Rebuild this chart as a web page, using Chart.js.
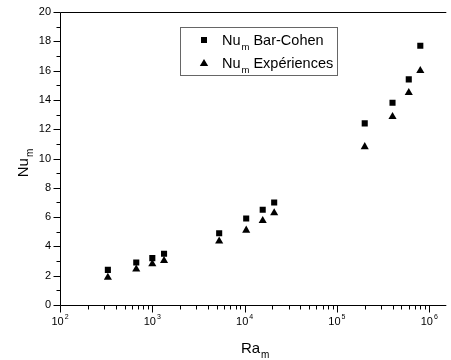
<!DOCTYPE html>
<html>
<head>
<meta charset="utf-8">
<script src="https://cdn.jsdelivr.net/npm/chart.js@4.4.1/dist/chart.umd.min.js"></script>
<style>
	html, body { margin: 0; padding: 0; background: #fff; }
	#wrap { width: 451px; height: 360px; position: relative; }
</style>
</head>
<body>
<div id="wrap"><canvas id="nuChart"></canvas></div>
<script>
// Rayleigh numbers (x) and mean Nusselt numbers for both series
const raValues = [330, 670, 1000, 1340, 5300, 10400, 15700, 20900, 200000, 400000, 600000, 800000];
const nuBarCohen = [2.4, 2.9, 3.2, 3.5, 4.9, 5.9, 6.5, 7.0, 12.4, 13.8, 15.4, 17.7];
const nuExperiences = [1.88, 2.45, 2.8, 3.02, 4.35, 5.1, 5.75, 6.28, 10.8, 12.85, 14.5, 16.0];
const xTickPowers = [2, 3, 4, 5, 6];
const yTickLabels = [0, 2, 4, 6, 8, 10, 12, 14, 16, 18, 20];
const seriesNames = ["Bar-Cohen", "Expériences"];

const FONT = '"Liberation Sans", Arial, sans-serif';

// draws "main" + subscript text, returns the end x
function subText(ctx, main, sub, x, y, size, subSize, subDrop) {
	ctx.font = size + "px " + FONT;
	ctx.fillText(main, x, y);
	const w = ctx.measureText(main).width;
	ctx.font = subSize + "px " + FONT;
	ctx.fillText(sub, x + w + 1, y + subDrop);
	return x + w + 1 + ctx.measureText(sub).width;
}

const axesPlugin = {
	id: "originAxes",
	afterDraw(chart) {
		const ctx = chart.ctx;
		const area = chart.chartArea;
		const xs = chart.scales.x;
		const ys = chart.scales.y;
		ctx.save();
		ctx.strokeStyle = "#000";
		ctx.fillStyle = "#000";
		ctx.lineWidth = 1;

		// frame (right side runs off the picture)
		ctx.beginPath();
		ctx.moveTo(area.right, area.top + 0.5);
		ctx.lineTo(area.left + 0.5, area.top + 0.5);
		ctx.lineTo(area.left + 0.5, area.bottom + 0.5);
		ctx.lineTo(area.right, area.bottom + 0.5);
		ctx.stroke();

		// y ticks
		ctx.beginPath();
		for (let v = 0; v <= 20; v++) {
			const py = Math.round(ys.getPixelForValue(v)) + 0.5;
			const len = v % 2 === 0 ? 7 : 4;
			ctx.moveTo(area.left + 0.5, py);
			ctx.lineTo(area.left + 0.5 - len, py);
		}
		// x ticks
		for (const p of xTickPowers) {
			for (let m = 1; m <= 9; m++) {
				const val = m * Math.pow(10, p);
				if (val > xs.max) break;
				const px = Math.round(xs.getPixelForValue(val)) + 0.5;
				const len = m === 1 ? 7 : 4;
				ctx.moveTo(px, area.bottom + 0.5);
				ctx.lineTo(px, area.bottom + 0.5 + len);
			}
		}
		ctx.stroke();

		// y tick labels
		ctx.font = "11px " + FONT;
		ctx.textAlign = "right";
		ctx.textBaseline = "middle";
		for (const v of yTickLabels) {
			ctx.fillText(String(v), area.left - 9, ys.getPixelForValue(v));
		}

		// x tick labels 10^n
		ctx.textAlign = "left";
		ctx.textBaseline = "alphabetic";
		for (const p of xTickPowers) {
			const px = xs.getPixelForValue(Math.pow(10, p));
			ctx.font = "11px " + FONT;
			const wb = ctx.measureText("10").width;
			ctx.font = "7px " + FONT;
			const we = ctx.measureText(String(p)).width;
			const x0 = px - (wb + we + 1) / 2;
			ctx.font = "11px " + FONT;
			ctx.fillText("10", x0, area.bottom + 20);
			ctx.font = "7px " + FONT;
			ctx.fillText(String(p), x0 + wb + 1, area.bottom + 14);
		}

		// x axis title
		ctx.font = "15px " + FONT;
		const wRa = ctx.measureText("Ra").width;
		ctx.font = "10px " + FONT;
		const wm = ctx.measureText("m").width;
		const cx = (area.left + area.right) / 2 + 2;
		subText(ctx, "Ra", "m", cx - (wRa + wm + 1) / 2, area.bottom + 48, 15, 10, 5);

		// y axis title (rotated)
		ctx.save();
		ctx.translate(28, 163);
		ctx.rotate(-Math.PI / 2);
		ctx.font = "15px " + FONT;
		const wNu = ctx.measureText("Nu").width;
		subText(ctx, "Nu", "m", -(wNu + wm + 1) / 2, 0, 15, 10, 5);
		ctx.restore();

		// legend box
		ctx.strokeStyle = "#666";
		ctx.strokeRect(180.5, 27.5, 157, 48);
		ctx.fillStyle = "#000";
		const rows = [40, 63];
		rows.forEach((ry, i) => {
			ctx.beginPath();
			if (i === 0) {
				ctx.rect(201, ry - 3, 6, 6);
			} else {
				ctx.moveTo(204, ry - 4);
				ctx.lineTo(208.2, ry + 3);
				ctx.lineTo(199.8, ry + 3);
				ctx.closePath();
			}
			ctx.fill();
			ctx.textBaseline = "alphabetic";
			const end = subText(ctx, "Nu", "m", 222, ry + 5, 14.5, 9.5, 5);
			ctx.font = "14.5px " + FONT;
			ctx.fillText(seriesNames[i], end + 4, ry + 5);
		});
		ctx.restore();
	}
};

new Chart(document.getElementById("nuChart"), {
	type: "scatter",
	data: {
		datasets: [
			{
				label: "Num Bar-Cohen",
				data: raValues.map((x, i) => ({ x: x, y: nuBarCohen[i] })),
				pointStyle: "rect",
				pointRadius: 4.3,
				pointBackgroundColor: "#000",
				pointBorderWidth: 0,
			},
			{
				label: "Num Expériences",
				data: raValues.map((x, i) => ({ x: x, y: nuExperiences[i] })),
				pointStyle: "triangle",
				pointRadius: 4.7,
				pointBackgroundColor: "#000",
				pointBorderWidth: 0,
			},
		],
	},
	options: {
		responsive: true,
		maintainAspectRatio: false,
		animation: false,
		layout: { padding: { left: 60, top: 12, right: 0, bottom: 55 } },
		plugins: { legend: { display: false }, tooltip: { enabled: false } },
		scales: {
			x: { type: "logarithmic", min: 100, max: 1530000, display: false },
			y: { type: "linear", min: 0, max: 20, display: false },
		},
	},
	plugins: [axesPlugin],
});
</script>
</body>
</html>
